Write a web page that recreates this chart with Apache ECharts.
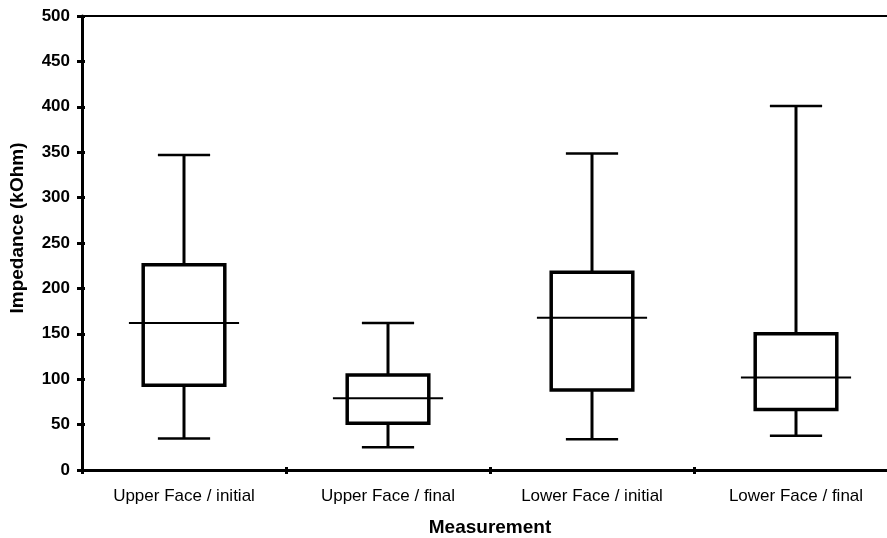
<!DOCTYPE html>
<html>
<head>
<meta charset="utf-8">
<script src="https://cdn.jsdelivr.net/npm/echarts@6/dist/echarts.min.js"></script>
<style>html,body{margin:0;padding:0;background:#fff}#c{width:887px;height:538px}</style>
</head>
<body>
<div id="c"></div>
<script>
const categories = ['Upper Face / initial', 'Upper Face / final', 'Lower Face / initial', 'Lower Face / final'];
const lowWhisker = [34.6, 25, 33.8, 37.6];
const q1 = [93.4, 51.4, 88, 66.6];
const median = [162, 79, 167.8, 102];
const q3 = [226, 104.6, 217.7, 150];
const highWhisker = [347, 162, 348.7, 401];
const yTicks = [0, 50, 100, 150, 200, 250, 300, 350, 400, 450, 500];

const boxData = categories.map((c, i) => [i, lowWhisker[i], q1[i], median[i], q3[i], highWhisker[i]]);
const font = '"Liberation Sans", Arial, sans-serif';

const chart = echarts.init(document.getElementById('c'));
chart.setOption({
  animation: false,
  backgroundColor: '#fff',
  grid: { left: 82, top: 16, width: 816, height: 454, outerBoundsMode: 'none', containLabel: false },
  xAxis: [{
    type: 'category',
    data: categories,
    boundaryGap: true,
    name: 'Measurement',
    nameLocation: 'middle',
    nameGap: 48,
    nameTextStyle: { fontFamily: font, fontSize: 19, fontWeight: 'bold', color: '#000' },
    axisLine: { onZero: false, lineStyle: { color: '#000', width: 3 } },
    axisTick: { show: true, alignWithLabel: false, interval: 0, length: 4, lineStyle: { color: '#000', width: 3 } },
    axisLabel: { fontFamily: font, fontSize: 17, color: '#000', margin: 18, interval: 0 }
  }, {
    type: 'category',
    data: categories,
    position: 'top',
    axisLine: { show: true, onZero: false, lineStyle: { color: '#000', width: 2 } },
    axisTick: { show: false },
    axisLabel: { show: false }
  }, {
    type: 'category',
    data: categories,
    position: 'bottom',
    boundaryGap: true,
    axisLine: { show: false, onZero: false },
    axisTick: { show: true, inside: true, alignWithLabel: false, interval: 0, length: 3, lineStyle: { color: '#000', width: 3 } },
    axisLabel: { show: false }
  }],
  yAxis: [{
    type: 'value',
    min: 0, max: 500, interval: 50,
    name: 'Impedance (kOhm)',
    nameLocation: 'middle',
    nameGap: 55,
    nameTextStyle: { fontFamily: font, fontSize: 19, fontWeight: 'bold', color: '#000', padding: [0, 0, 0, 30] },
    axisLine: { show: true, onZero: false, lineStyle: { color: '#000', width: 3 } },
    axisTick: { show: true, length: 5, lineStyle: { color: '#000', width: 3 } },
    splitLine: { show: false },
    axisLabel: {
      fontFamily: font, fontSize: 17, fontWeight: 'bold', color: '#000', margin: 12,
      formatter: v => yTicks.includes(v) ? String(v) : ''
    }
  }, {
    type: 'value',
    min: 0, max: 500, interval: 50,
    position: 'left',
    axisLine: { show: false, onZero: false },
    axisTick: { show: true, inside: true, length: 3, lineStyle: { color: '#000', width: 3 } },
    splitLine: { show: false },
    axisLabel: { show: false }
  }],
  series: [{
    type: 'custom',
    data: boxData,
    encode: { x: 0, y: [1, 2, 3, 4, 5] },
    renderItem: function (params, api) {
      const x = api.value(0);
      const bw = api.size([1, 0])[0];
      const pLow = api.coord([x, api.value(1)]);
      const pQ1 = api.coord([x, api.value(2)]);
      const pMed = api.coord([x, api.value(3)]);
      const pQ3 = api.coord([x, api.value(4)]);
      const pHigh = api.coord([x, api.value(5)]);
      const cx = pMed[0];
      const boxW = bw * 0.40, medW = bw * 0.54, capW = bw * 0.256;
      const st = (w) => ({ stroke: '#000', lineWidth: w, fill: null });
      return {
        type: 'group',
        children: [
          { type: 'line', shape: { x1: cx, y1: pQ3[1], x2: cx, y2: pHigh[1] }, style: st(3) },
          { type: 'line', shape: { x1: cx, y1: pQ1[1], x2: cx, y2: pLow[1] }, style: st(3) },
          { type: 'line', shape: { x1: cx - capW / 2, y1: pHigh[1], x2: cx + capW / 2, y2: pHigh[1] }, style: st(2.5) },
          { type: 'line', shape: { x1: cx - capW / 2, y1: pLow[1], x2: cx + capW / 2, y2: pLow[1] }, style: st(2.5) },
          { type: 'rect', shape: { x: cx - boxW / 2, y: pQ3[1], width: boxW, height: pQ1[1] - pQ3[1] }, style: { stroke: '#000', lineWidth: 3.5, fill: '#fff' } },
          { type: 'line', shape: { x1: cx - medW / 2, y1: pMed[1], x2: cx + medW / 2, y2: pMed[1] }, style: st(2) }
        ]
      };
    }
  }]
});
</script>
</body>
</html>
